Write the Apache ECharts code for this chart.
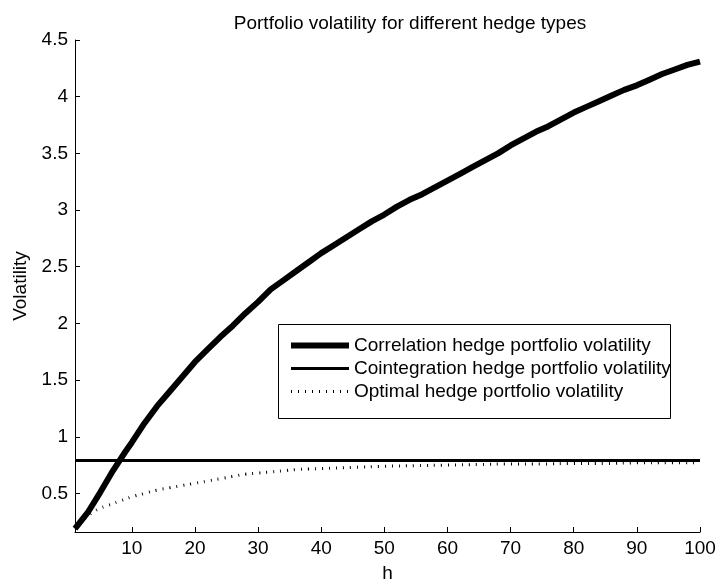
<!DOCTYPE html>
<html>
<head>
<meta charset="utf-8">
<script src="https://cdn.jsdelivr.net/npm/echarts@6/dist/echarts.min.js"></script>
<style>
  html, body { margin: 0; padding: 0; background: #fff; }
  #chart { width: 720px; height: 584px; }
</style>
</head>
<body>
<div id="chart"></div>
<script>
// horizon h where the curves were read
const hCorr = [1, 3, 5, 7, 9, 10, 12, 14, 16, 18, 20, 22, 24, 26, 28, 30, 32, 34, 36, 38, 40,
  42, 44, 46, 48, 50, 52, 54, 56, 58, 60, 62, 64, 66, 68, 70, 72, 74, 76, 78, 80,
  82, 84, 86, 88, 90, 92, 94, 96, 98, 100]
const corrVol = [0.19, 0.33, 0.51, 0.70, 0.87, 0.95, 1.12, 1.27, 1.40, 1.53, 1.66, 1.77, 1.88, 1.98, 2.09, 2.19, 2.30, 2.38, 2.46, 2.54, 2.62,
  2.69, 2.76, 2.83, 2.90, 2.96, 3.03, 3.09, 3.14, 3.20, 3.26, 3.32, 3.38, 3.44, 3.50, 3.57, 3.63, 3.69, 3.74, 3.80, 3.86,
  3.91, 3.96, 4.01, 4.06, 4.10, 4.15, 4.20, 4.24, 4.28, 4.31]

const hCoint = [1, 100]
const cointVol = [0.79, 0.79]

const hOpt = [1, 2, 3, 4, 5, 6, 8, 10, 12, 14, 16, 18, 20, 22, 24, 26, 28, 30, 32, 34, 36, 38, 40,
  45, 50, 55, 60, 65, 70, 75, 80, 85, 90, 95, 100]
const optVol = [0.19, 0.25, 0.30, 0.34, 0.37, 0.39, 0.43, 0.47, 0.50, 0.53, 0.55, 0.57, 0.59, 0.61, 0.63, 0.65, 0.67, 0.68, 0.69, 0.70, 0.71, 0.715, 0.72,
  0.73, 0.74, 0.745, 0.75, 0.755, 0.76, 0.76, 0.765, 0.765, 0.77, 0.77, 0.77]

const xTicks = [10, 20, 30, 40, 50, 60, 70, 80, 90, 100]
const yTicks = [0.5, 1, 1.5, 2, 2.5, 3, 3.5, 4, 4.5]

const seriesNames = [
  'Correlation hedge portfolio volatility',
  'Cointegration hedge portfolio volatility',
  'Optimal hedge portfolio volatility'
]

const pairs = (xs, ys) => xs.map((x, i) => [x, ys[i]])
const font = 'Liberation Sans, Arial, sans-serif'
const fs = 19
const noDot = { color: 'transparent', borderColor: 'transparent', borderWidth: 0 }

const chart = echarts.init(document.getElementById('chart'))
chart.setOption({
  animation: false,
  backgroundColor: '#fff',
  textStyle: { fontFamily: font },
  title: {
    text: 'Portfolio volatility for different hedge types',
    left: 405,
    textAlign: 'center',
    top: 9,
    textStyle: { fontFamily: font, fontSize: fs, fontWeight: 'normal', color: '#000' }
  },
  grid: { left: 75, right: 20, top: 40, bottom: 52, outerBoundsMode: 'none' },
  legend: {
    orient: 'vertical',
    left: 283,
    top: 331,
    padding: 5,
    itemWidth: 58,
    itemHeight: 19,
    itemGap: 4,
    textStyle: { fontFamily: font, fontSize: fs, color: '#000' },
    data: [
      { name: seriesNames[0], lineStyle: { width: 6, color: '#000' }, itemStyle: noDot },
      { name: seriesNames[1], lineStyle: { width: 3, color: '#000' }, itemStyle: noDot },
      { name: seriesNames[2], lineStyle: { width: 3, color: '#000', type: [1, 6] }, itemStyle: noDot }
    ]
  },
  graphic: [{
    type: 'rect',
    shape: { x: 278.5, y: 324.5, width: 392, height: 94 },
    style: { fill: null, stroke: '#000', lineWidth: 1 },
    z: -1
  }],
  xAxis: {
    type: 'value',
    min: 1,
    max: 100,
    name: 'h',
    nameLocation: 'middle',
    nameGap: 32,
    nameTextStyle: { fontFamily: font, fontSize: fs, color: '#000' },
    axisLine: { lineStyle: { color: '#000', width: 1 } },
    axisTick: { inside: true, length: 5, customValues: xTicks, lineStyle: { color: '#000' } },
    axisLabel: { customValues: xTicks, fontSize: fs, color: '#000', margin: 7 },
    splitLine: { show: false }
  },
  yAxis: {
    type: 'value',
    min: 0.16,
    max: 4.5,
    name: 'Volatility',
    nameLocation: 'middle',
    nameGap: 42,
    nameTextStyle: { fontFamily: font, fontSize: fs, color: '#000' },
    axisLine: { show: true, lineStyle: { color: '#000', width: 1 } },
    axisTick: { show: true, inside: true, length: 5, customValues: yTicks, lineStyle: { color: '#000' } },
    axisLabel: { customValues: yTicks, fontSize: fs, color: '#000', margin: 7 },
    splitLine: { show: false }
  },
  series: [
    {
      name: seriesNames[0],
      type: 'line',
      symbol: 'none',
      data: pairs(hCorr, corrVol),
      lineStyle: { width: 6, color: '#000' },
      itemStyle: { color: '#000' },
      z: 3
    },
    {
      name: seriesNames[1],
      type: 'line',
      symbol: 'none',
      data: pairs(hCoint, cointVol),
      lineStyle: { width: 3, color: '#000' },
      itemStyle: { color: '#000' },
      z: 2
    },
    {
      name: seriesNames[2],
      type: 'line',
      symbol: 'none',
      smooth: true,
      data: pairs(hOpt, optVol),
      lineStyle: { width: 3, color: '#000', type: [1, 6], cap: 'butt' },
      itemStyle: { color: '#000' },
      z: 1
    }
  ]
})
</script>
</body>
</html>
